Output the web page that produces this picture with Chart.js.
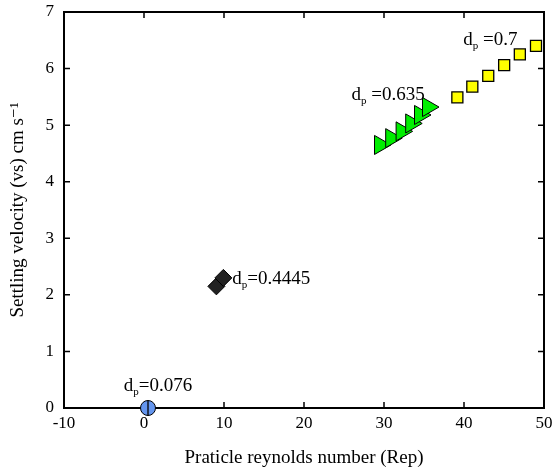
<!DOCTYPE html>
<html><head><meta charset="utf-8">
<script src="https://cdn.jsdelivr.net/npm/chart.js@4"></script>
<style>html,body{margin:0;padding:0;background:#fff}#wrap{width:556px;height:472px}</style>
</head><body><div id="wrap"><canvas id="c" width="556" height="472"></canvas></div>
<script>
// data
const circleX = [0.5];
const circleY = [0];
const diamondX = [9.05, 9.92];
const diamondY = [2.15, 2.30];
const triangleX = [29.5, 30.9, 32.2, 33.4, 34.5, 35.5];
const triangleY = [4.65, 4.77, 4.89, 5.03, 5.18, 5.32];
const squareX = [39.17, 41.04, 43.03, 45.02, 46.98, 49.0];
const squareY = [5.49, 5.68, 5.87, 6.06, 6.25, 6.40];
const labelRest = ['=0.076', '=0.4445', ' =0.635', ' =0.7'];
const labelX = [-2.53, 11.04, 25.94, 39.92];
const labelY = [0.30, 2.20, 5.45, 6.42];
const xTicks = [-10, 0, 10, 20, 30, 40, 50];
const yTicks = [0, 1, 2, 3, 4, 5, 6, 7];

const pts = (xs, ys) => xs.map((x, i) => ({x, y: ys[i]}));
const SERIF = '"Liberation Serif", "DejaVu Serif", serif';

const frame = {
  id: 'frame',
  beforeDatasetsDraw(chart) {
    const {ctx, chartArea: a, scales: {x, y}} = chart;
    ctx.save();
    ctx.strokeStyle = '#000';
    ctx.lineWidth = 2;
    ctx.strokeRect(a.left, a.top, a.right - a.left, a.bottom - a.top);
    const L = 6;
    ctx.lineWidth = 1.5;
    ctx.beginPath();
    xTicks.forEach(v => {
      const px = x.getPixelForValue(v);
      ctx.moveTo(px, a.bottom); ctx.lineTo(px, a.bottom - L);
      ctx.moveTo(px, a.top); ctx.lineTo(px, a.top + L);
    });
    yTicks.forEach(v => {
      const py = y.getPixelForValue(v);
      ctx.moveTo(a.left, py); ctx.lineTo(a.left + L, py);
      ctx.moveTo(a.right, py); ctx.lineTo(a.right - L, py);
    });
    ctx.stroke();
    ctx.restore();
  },
  afterDatasetsDraw(chart) {
    const {ctx, scales: {x, y}} = chart;
    ctx.save();
    ctx.fillStyle = '#000';
    ctx.textBaseline = 'alphabetic';
    labelRest.forEach((t, i) => {
      let px = x.getPixelForValue(labelX[i]);
      const py = y.getPixelForValue(labelY[i]);
      ctx.font = '19px ' + SERIF;
      ctx.fillText('d', px, py);
      px += ctx.measureText('d').width;
      ctx.font = '11px ' + SERIF;
      ctx.fillText('p', px, py + 4);
      px += ctx.measureText('p').width;
      ctx.font = '19px ' + SERIF;
      ctx.fillText(t, px, py);
    });
    ctx.restore();
  }
};

new Chart(document.getElementById('c'), {
  type: 'scatter',
  data: {
    datasets: [
      {data: pts(circleX, circleY), order: 0, clip: false, pointStyle: 'line', rotation: 90, pointRadius: 7.5, borderColor: '#000', backgroundColor: '#000', borderWidth: 1.3},
      {data: pts(circleX, circleY), order: 1, clip: false, pointStyle: 'circle', pointRadius: 7.5, backgroundColor: '#6495ed', borderColor: '#000', borderWidth: 1},
      {data: pts(diamondX, diamondY), order: 2, clip: false, pointStyle: 'rectRot', pointRadius: 8.5, backgroundColor: '#222', borderColor: '#000', borderWidth: 1},
      {data: pts(triangleX, triangleY), order: 3, clip: false, pointStyle: 'triangle', rotation: 90, pointRadius: 11, backgroundColor: '#00ee00', borderColor: '#000', borderWidth: 1},
      {data: pts(squareX, squareY), order: 4, clip: false, pointStyle: 'rect', pointRadius: 7.8, backgroundColor: '#ffff00', borderColor: '#000', borderWidth: 1.3}
    ]
  },
  options: {
    responsive: false,
    animation: false,
    devicePixelRatio: 1,
    layout: {padding: {top: 7, right: 10, left: 0, bottom: 0}},
    plugins: {legend: {display: false}, tooltip: {enabled: false}},
    scales: {
      x: {
        type: 'linear', min: -10, max: 50,
        afterBuildTicks: s => { s.ticks = xTicks.map(v => ({value: v})); },
        afterFit: s => { s.height = 64; s.paddingLeft = 0; s.paddingRight = 0; },
        grid: {display: false, drawTicks: false},
        border: {display: false},
        ticks: {color: '#000', padding: 5, font: {family: SERIF, size: 17}, maxRotation: 0},
        title: {display: true, text: 'Praticle reynolds number (Rep)', color: '#000', font: {family: SERIF, size: 19}, padding: {top: 0, bottom: 3}}
      },
      y: {
        type: 'linear', min: 0, max: 7,
        afterBuildTicks: s => { s.ticks = yTicks.map(v => ({value: v})); },
        afterFit: s => { s.width = 64; s.paddingTop = 0; s.paddingBottom = 0; },
        grid: {display: false, drawTicks: false},
        border: {display: false},
        ticks: {color: '#000', padding: 10, font: {family: SERIF, size: 17}},
        title: {display: true, text: 'Settling velocity (vs) cm s\u207B\u00B9', color: '#000', font: {family: SERIF, size: 19}, padding: {top: 7, bottom: 0}}
      }
    }
  },
  plugins: [frame]
});
</script>
</body></html>
